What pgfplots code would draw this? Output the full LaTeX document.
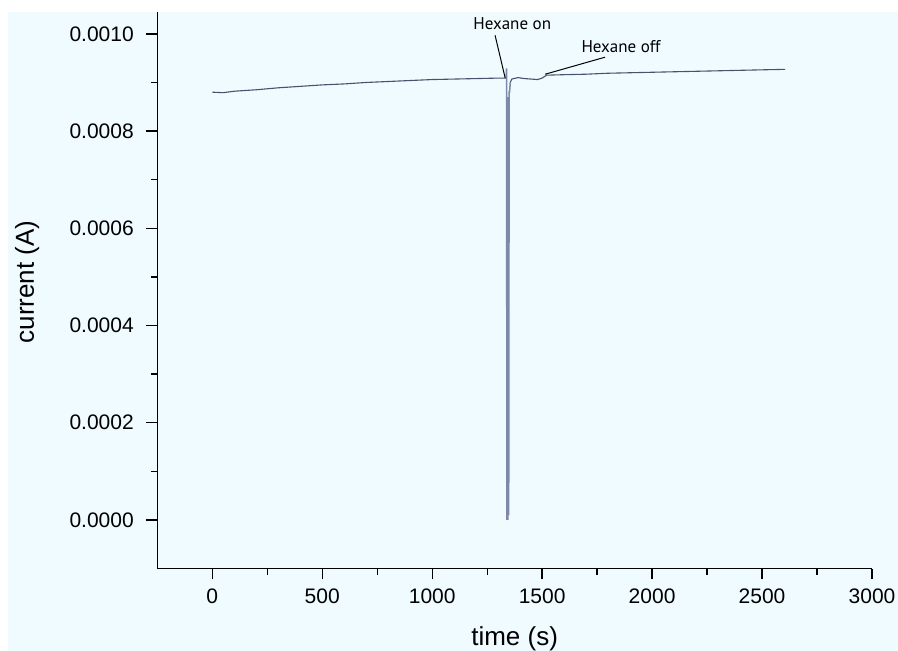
\documentclass[border=0pt]{standalone}
\usepackage{pgfplots}
\pgfplotsset{compat=1.18}
\usepackage{fontspec}
\setmainfont{Liberation Sans}
\newfontfamily\annfont{PT Sans}
\definecolor{bgblue}{RGB}{240,251,255}
\definecolor{trace}{RGB}{72,82,108}
\definecolor{spike}{RGB}{125,137,168}

\begin{document}
\begin{tikzpicture}
\useasboundingbox (0,0) rectangle (898bp,651bp);
\fill[white] (0,0) rectangle (898bp,651bp);
\fill[bgblue] (7.5bp,0) rectangle (898bp,639bp);
\begin{axis}[
    at={(157.3bp,82.5bp)}, anchor=south west,
    scale only axis, width=714.7bp, height=556.5bp,
    xmin=-250, xmax=3000, ymin=-0.0001, ymax=0.001045,
    axis x line=bottom, axis y line=left,
    axis line style={-, line width=1.4bp, black},
    tick align=outside,
    major tick length=11bp, minor tick length=6.5bp,
    every tick/.style={black, line width=1.3bp},
    xtick={0,500,1000,1500,2000,2500,3000},
    ytick={0,0.0002,0.0004,0.0006,0.0008,0.001},
    minor x tick num=1, minor y tick num=1,
    scaled y ticks=false,
    /pgf/number format/assume math mode=true,
    /pgf/number format/1000 sep={},
    yticklabel style={/pgf/number format/fixed, /pgf/number format/fixed zerofill,
      /pgf/number format/precision=4, xshift=-9bp},
    xticklabel style={yshift=-6bp},
    tick label style={font=\fontsize{21bp}{24bp}\selectfont},
    xlabel={time (s)}, ylabel={current (A)},
    xlabel style={at={(rel axis cs:0.5,-0.1392)}, anchor=base,
      font=\fontsize{26bp}{30bp}\selectfont},
    ylabel style={at={(rel axis cs:-0.182,0.515)}, anchor=center,
      font=\fontsize{26bp}{30bp}\selectfont},
    clip=false,
  ]
  % baseline before the hexane pulse
  \addplot[trace, line width=1.1bp] coordinates {
    (0,0.000880) (50,0.000879) (100,0.000882) (200,0.000885) (300,0.000889)
    (400,0.000892) (500,0.000895) (600,0.000897) (700,0.000900) (800,0.000902)
    (900,0.000904) (1000,0.000906) (1100,0.000907) (1200,0.000908) (1300,0.000909)
    (1336,0.000909)
  };
  % spike
  \addplot[spike, line width=1.5bp] coordinates {
    (1336,0.000909) (1338,0.000929) (1340,0.000000) (1342,0.000870) (1344,0.000000)
    (1346,0.000820) (1348,0.000010) (1350,0.000880) (1352,0.000880) (1355,0.000900)
  };
  % baseline after
  \addplot[trace, line width=1.1bp] coordinates {
    (1355,0.000900) (1362,0.000907) (1390,0.000910) (1420,0.000908) (1450,0.000907)
    (1480,0.000906) (1500,0.000909) (1520,0.000915) (1600,0.000916) (1700,0.000917)
    (1800,0.000919) (1900,0.000920) (2000,0.000921) (2100,0.000922) (2200,0.000923)
    (2300,0.000924) (2400,0.000925) (2500,0.000926) (2605,0.000927)
  };
  % annotations
  \draw[black, line width=1bp] (axis cs:1286,0.000997) -- (axis cs:1332,0.000909);
  \draw[black, line width=1bp] (axis cs:1786,0.000952) -- (axis cs:1514,0.000917);
  \node[font=\annfont\fontsize{17bp}{20bp}\selectfont, inner sep=0pt] at (axis cs:1364,0.001022) {Hexane on};
  \node[font=\annfont\fontsize{17bp}{20bp}\selectfont, inner sep=0pt] at (axis cs:1859,0.000973) {Hexane off};
\end{axis}
\end{tikzpicture}
\end{document}
